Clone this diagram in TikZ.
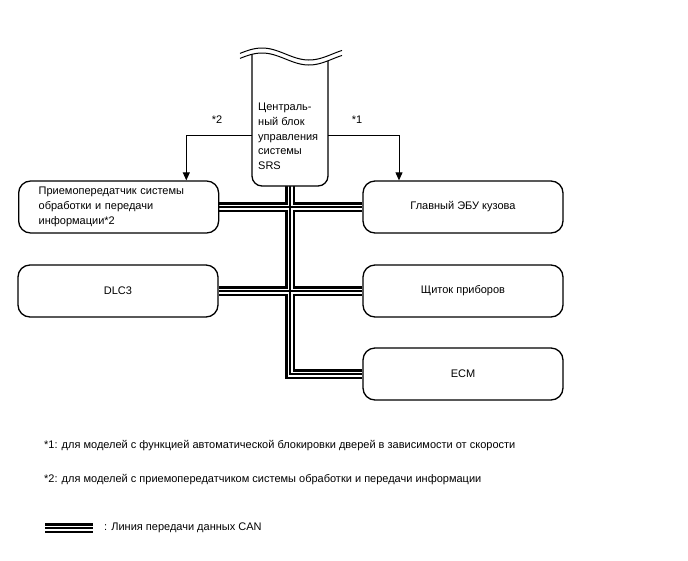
\documentclass[tikz,border=0pt]{standalone}
\usepackage{fontspec}
\setmainfont{Liberation Sans}
\usetikzlibrary{arrows.meta,backgrounds}
\begin{document}
\begin{tikzpicture}[x=1pt,y=-1pt,
  ecu/.style={draw, line width=1.3pt, rounded corners=12pt, minimum width=200pt, minimum height=52pt, fill=white, inner sep=0pt, font=\fontsize{11}{15}\selectfont},
  lbl/.style={font=\fontsize{11}{14.75}\selectfont, inner sep=0pt},
  sig/.style={line width=1pt, -{Triangle[length=8pt,width=7pt]}},
  canA/.style={line width=10.5pt, black},
  canB/.style={line width=5pt, white},
  canC/.style={line width=2.5pt, black}]
\useasboundingbox (0,0) rectangle (688,560);

% ECUs
\node[ecu, text width=160pt, align=left, inner xsep=20pt, anchor=west] (l1) at (18,207) {Приемопередатчик системы\\обработки и передачи\\информации*2};
\node[ecu] (r1) at (463,207) {Главный ЭБУ кузова};
\node[ecu] (l2) at (118,291) {DLC3};
\node[ecu] (r2) at (463,291) {Щиток приборов};
\node[ecu] (ecm) at (463,374) {ECM};

% SRS outline
\coordinate (srsL) at (252,135);
\coordinate (srsR) at (328,135);
\coordinate (srsB) at (290,186);
\draw[line width=1.3pt, fill=white, rounded corners=10pt] (252,54.3) -- (252,186) -- (328,186) -- (328,60.8);
\fill[white] plot[domain=240:342, samples=50, smooth] (\x, {54-6*cos((\x-262)/94*360)}) -- plot[domain=342:240, samples=50, smooth] (\x, {59-6*cos((\x-262)/94*360)}) -- cycle;
\draw[line width=1pt] plot[domain=240:342, samples=50, smooth] (\x, {54-6*cos((\x-262)/94*360)});
\draw[line width=1pt] plot[domain=240:342, samples=50, smooth] (\x, {59-6*cos((\x-262)/94*360)});
\node[lbl, align=left, anchor=west] (srs) at (258,136.5) {Централь-\\ный блок\\управления\\системы\\SRS};

% signal arrows
\draw[sig] (srsL) -| ([xshift=-33pt]l1.north east);
\draw[sig] (srsR) -| ([xshift=-64pt]r1.north);
\node[lbl] (n2) at (217,120) {*2};
\node[lbl] (n1) at (357,120) {*1};

% notes
\node[lbl, anchor=west] (f1) at (44,446) {*1: для моделей с функцией автоматической блокировки дверей в зависимости от скорости};
\node[lbl, anchor=west] (f2) at (44,480) {*2: для моделей с приемопередатчиком системы обработки и передачи информации};
\coordinate (leg1) at (45,528);
\coordinate (leg2) at (93,528);
\node[lbl, anchor=west] (legt) at (104,528) {: Линия передачи данных CAN};

% CAN bus
\begin{pgfonlayer}{background}
\foreach \s in {canA,canB,canC} {
  \draw[\s] (l1.east) -- (r1.west);
  \draw[\s] (l2.east) -- (r2.west);
  \draw[\s] (srsB) |- (ecm.west);
  \draw[\s] (leg1) -- (leg2);
}
\end{pgfonlayer}
\end{tikzpicture}
\end{document}
